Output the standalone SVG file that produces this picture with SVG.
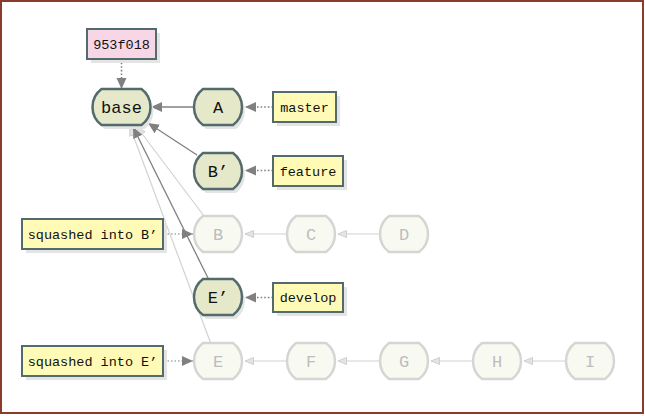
<svg xmlns="http://www.w3.org/2000/svg" xmlns:xlink="http://www.w3.org/1999/xlink" width="645" height="416" viewBox="0 0 645 416">
<style>
.frame{fill:#fff;stroke:#8a3b2c;stroke-width:2}
.shadow{fill:#e4e4e4;stroke:none}
.cm{fill:#e6e9c9;stroke:#536a6e;stroke-width:2.5}
.old{fill:#f8f9f1;stroke:#d3d7d4;stroke-width:2.5}
.lbl{fill:#fffbb6;stroke:#536a6e;stroke-width:2}
.sha{fill:#f7d7e6;stroke:#536a6e;stroke-width:2}
.t{font-family:"Courier New","Liberation Mono","DejaVu Sans Mono",monospace;text-anchor:middle}
.tn{font-size:17px;fill:#111}
.to{font-size:17px;fill:#bdbdbd}
.tl{font-size:13.5px;fill:#111}
.e{fill:none;stroke:#808080;stroke-width:1.3}
.ef{fill:none;stroke:#d2d2d2;stroke-width:1.2}
.d{fill:none;stroke:#808080;stroke-width:1.6;stroke-dasharray:1.6 2}
.ds{fill:none;stroke:#808080;stroke-width:1;stroke-dasharray:1.5 2}
</style>
<defs>
<path id="hex" d="M-15,-18 H15 A22.5,22.5 0 0 1 15,18 H-15 A22.5,22.5 0 0 1 -15,-18 Z"/>
<path id="hexw" d="M-20,-18 H20 A22.5,22.5 0 0 1 20,18 H-20 A22.5,22.5 0 0 1 -20,-18 Z"/>
<marker id="ah" markerUnits="userSpaceOnUse" markerWidth="12" markerHeight="11" refX="11" refY="5" orient="auto">
<path d="M0,0 L11,5 L0,10 Z" fill="#808080"/>
</marker>
<marker id="ahf" markerUnits="userSpaceOnUse" markerWidth="10" markerHeight="9" refX="9" refY="4" orient="auto">
<path d="M0.5,0.5 L9,4 L0.5,7.5 Z" fill="#e4e4e4" stroke="#cfcfcf" stroke-width="1"/>
</marker>
</defs>
<rect class="frame" x="1" y="1" width="642" height="412"/>

<g id="connectors">
<line class="ef" x1="204" y1="216" x2="137" y2="127" marker-end="url(#ahf)"/>
<line class="ef" x1="211" y1="344" x2="130" y2="127" marker-end="url(#ahf)"/>
<line class="d" x1="121.5" y1="59" x2="121.5" y2="89" marker-end="url(#ah)"/>
<line class="e" x1="194" y1="107" x2="151" y2="107" marker-end="url(#ah)"/>
<line class="e" x1="197" y1="155" x2="148" y2="123" marker-end="url(#ah)"/>
<line class="e" x1="209" y1="280" x2="133" y2="127" marker-end="url(#ah)"/>
<line class="d" x1="273" y1="107" x2="245" y2="107" marker-end="url(#ah)"/>
<line class="d" x1="273" y1="170.5" x2="245" y2="170.5" marker-end="url(#ah)"/>
<line class="d" x1="273" y1="297.5" x2="245" y2="297.5" marker-end="url(#ah)"/>
<line class="ds" x1="164" y1="234" x2="193" y2="234" marker-end="url(#ah)"/>
<line class="ds" x1="164" y1="361" x2="193" y2="361" marker-end="url(#ah)"/>
<line class="ef" x1="287" y1="234" x2="245" y2="234" marker-end="url(#ahf)"/>
<line class="ef" x1="380" y1="234" x2="338" y2="234" marker-end="url(#ahf)"/>
<line class="ef" x1="287" y1="361" x2="245" y2="361" marker-end="url(#ahf)"/>
<line class="ef" x1="380" y1="361" x2="338" y2="361" marker-end="url(#ahf)"/>
<line class="ef" x1="473" y1="361" x2="431" y2="361" marker-end="url(#ahf)"/>
<line class="ef" x1="566" y1="361" x2="524" y2="361" marker-end="url(#ahf)"/>
</g>

<g id="sha953">
<rect class="shadow" x="91" y="33" width="69" height="30"/>
<rect class="sha" x="87" y="29" width="69" height="30"/>
<text class="t tl" x="121.5" y="48.5">953f018</text>
</g>

<g id="base">
<use xlink:href="#hexw" class="shadow" x="124.5" y="111"/>
<use xlink:href="#hexw" class="cm" x="121.5" y="107"/>
<text class="t tn" x="121.5" y="112.5">base</text>
</g>
<g id="A">
<use xlink:href="#hex" class="shadow" x="221" y="111"/>
<use xlink:href="#hex" class="cm" x="218" y="107"/>
<text class="t tn" x="218" y="112.5">A</text>
</g>
<g id="Bp">
<use xlink:href="#hex" class="shadow" x="221" y="175"/>
<use xlink:href="#hex" class="cm" x="218" y="171"/>
<text class="t tn" x="218" y="176.5">B’</text>
</g>
<g id="Ep">
<use xlink:href="#hex" class="shadow" x="221" y="301"/>
<use xlink:href="#hex" class="cm" x="218" y="297"/>
<text class="t tn" x="218" y="302.5">E’</text>
</g>

<g id="B"><use xlink:href="#hex" class="old" x="218" y="234"/><text class="t to" x="218" y="239.5">B</text></g>
<g id="C"><use xlink:href="#hex" class="old" x="311" y="234"/><text class="t to" x="311" y="239.5">C</text></g>
<g id="D"><use xlink:href="#hex" class="old" x="404" y="234"/><text class="t to" x="404" y="239.5">D</text></g>
<g id="E"><use xlink:href="#hex" class="old" x="218" y="361"/><text class="t to" x="218" y="366.5">E</text></g>
<g id="F"><use xlink:href="#hex" class="old" x="311" y="361"/><text class="t to" x="311" y="366.5">F</text></g>
<g id="G"><use xlink:href="#hex" class="old" x="404" y="361"/><text class="t to" x="404" y="366.5">G</text></g>
<g id="H"><use xlink:href="#hex" class="old" x="497" y="361"/><text class="t to" x="497" y="366.5">H</text></g>
<g id="I"><use xlink:href="#hex" class="old" x="590" y="361"/><text class="t to" x="590" y="366.5">I</text></g>

<g id="master">
<rect class="shadow" x="277" y="96" width="63" height="30"/>
<rect class="lbl" x="273" y="92" width="63" height="30"/>
<text class="t tl" x="304.5" y="111.5">master</text>
</g>
<g id="feature">
<rect class="shadow" x="277" y="160" width="70" height="30"/>
<rect class="lbl" x="273" y="156" width="70" height="30"/>
<text class="t tl" x="308" y="175.5">feature</text>
</g>
<g id="develop">
<rect class="shadow" x="277" y="287" width="70" height="29"/>
<rect class="lbl" x="273" y="283" width="70" height="29"/>
<text class="t tl" x="308" y="302">develop</text>
</g>
<g id="sqB">
<rect class="shadow" x="26" y="223" width="141" height="30"/>
<rect class="lbl" x="22" y="219" width="141" height="30"/>
<text class="t tl" x="92.5" y="238.5">squashed into B’</text>
</g>
<g id="sqE">
<rect class="shadow" x="26" y="350" width="141" height="30"/>
<rect class="lbl" x="22" y="346" width="141" height="30"/>
<text class="t tl" x="92.5" y="365.5">squashed into E’</text>
</g>
</svg>
